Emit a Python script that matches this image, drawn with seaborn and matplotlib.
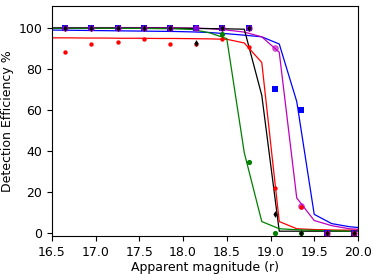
import matplotlib
matplotlib.use("Agg")
import matplotlib.pyplot as plt
import seaborn as sns

# model curves, evaluated on a 0.2 mag grid
grid_mag = [16.5, 16.7, 16.9, 17.1, 17.3, 17.5, 17.7, 17.9, 18.1, 18.3,
            18.5, 18.7, 18.9, 19.1, 19.3, 19.5, 19.7, 19.9, 20.1]
fit_blue = [98.8, 98.7, 98.6, 98.5, 98.4, 98.3, 98.2, 98.1, 97.9, 97.6,
            97.0, 96.3, 95.5, 92.0, 64.0, 9.0, 4.5, 3.0, 2.2]
fit_magenta = [100, 100, 100, 100, 100, 100, 100, 99.9, 99.8, 99.5,
               98.8, 97.8, 95.5, 88.0, 17.0, 6.0, 3.5, 2.0, 1.5]
fit_black = [99.7, 99.7, 99.7, 99.7, 99.7, 99.7, 99.7, 99.7, 99.6, 99.5,
             99.4, 99.2, 67.0, 0.8, 0.8, 0.8, 0.8, 0.8, 0.8]
fit_red = [95.0, 95.0, 94.9, 94.9, 94.8, 94.8, 94.7, 94.7, 94.6, 94.5,
           94.3, 92.5, 83.0, 5.5, 2.0, 1.6, 1.4, 1.3, 1.2]
fit_green = [99.7, 99.7, 99.7, 99.7, 99.6, 99.6, 99.5, 99.4, 99.1, 97.5,
             94.6, 39.0, 5.5, 2.0, 1.5, 1.2, 1.0, 0.8, 0.7]

# measured efficiencies
meas_mag = [16.65, 16.95, 17.25, 17.55, 17.85, 18.15, 18.45, 18.75, 19.05, 19.35, 19.65, 19.95]
eff_blue = [100, 100, 100, 100, 100, 100, 100, 100, 70, 60, 0, 0]
eff_magenta = [100, 100, 100, 100, 100, 100, 100, 100, 90, 13, 0, 0]
eff_black = [100, 100, 100, 100, 100, 92.5, 100, 100, 9, 0, 0, 0]
eff_red = [88, 92, 93, 94.6, 92, 92, 94.6, 90.7, 22, 12.7, 0, 0]
eff_green = [100, 100, 100, 100, 100, 100, 97, 34.6, 0, 0, 0, 0]

fig, ax = plt.subplots(figsize=(3.74, 2.74), dpi=100)
fig.subplots_adjust(left=0.139, right=0.957, top=0.978, bottom=0.139)

fits = [(fit_blue, "blue"), (fit_magenta, "m"), (fit_black, "k"),
        (fit_red, "red"), (fit_green, "green")]
for vals, c in fits:
    sns.lineplot(x=grid_mag, y=vals, color=c, linewidth=0.9, ax=ax)

# markers drawn in this order so overlaps stack like the original
sns.scatterplot(x=meas_mag, y=eff_green, color="green", marker="o", s=14, linewidth=0, ax=ax, zorder=3)
sns.scatterplot(x=meas_mag, y=eff_blue, color="blue", marker="s", s=14, linewidth=0, ax=ax, zorder=3)
sns.scatterplot(x=meas_mag, y=eff_magenta, color="m", marker="o", s=16, alpha=0.6,
                edgecolor="m", linewidth=0.8, ax=ax, zorder=3)
sns.scatterplot(x=meas_mag, y=eff_red, color="red", marker="o", s=10, linewidth=0, ax=ax, zorder=3)
sns.scatterplot(x=meas_mag, y=eff_black, color="k", marker="d", s=12, linewidth=0, ax=ax, zorder=3)

ax.set_xlim(16.5, 20.0)
ax.set_ylim(-1.5, 110.5)
ax.set_xticks([16.5, 17.0, 17.5, 18.0, 18.5, 19.0, 19.5, 20.0])
ax.set_yticks([0, 20, 40, 60, 80, 100])
ax.set_xlabel("Apparent magnitude (r)", fontsize=9, labelpad=2)
ax.set_ylabel("Detection Efficiency %", fontsize=9, labelpad=3)
ax.tick_params(labelsize=9)

plt.savefig("out.png", dpi=100)
plt.close()
